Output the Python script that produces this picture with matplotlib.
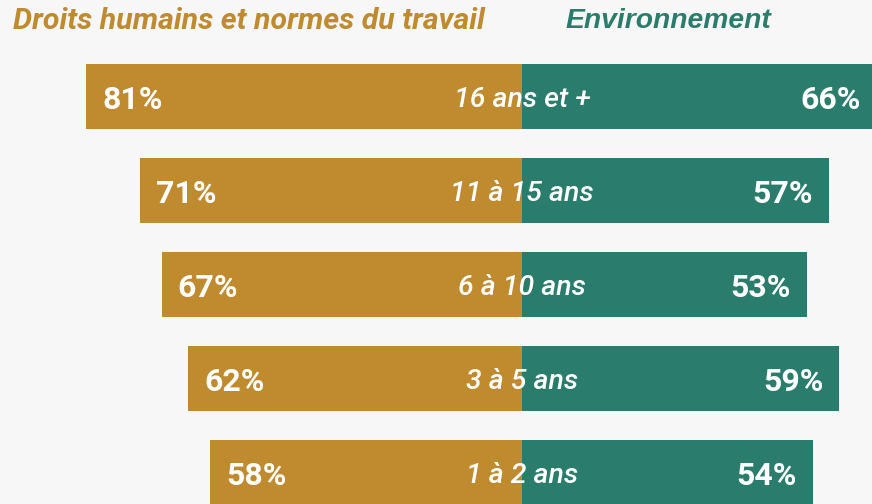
import matplotlib.pyplot as plt

# Data
groups = ["16 ans et +", "11 à 15 ans", "6 à 10 ans", "3 à 5 ans", "1 à 2 ans"]
droits = [81, 71, 67, 62, 58]
environnement = [66, 57, 53, 59, 54]

gold = "#C08A2E"
teal = "#2A7D6D"
bg = "#F7F7F7"

fig = plt.figure(figsize=(8.72, 5.04), dpi=100, facecolor=bg)
ax = fig.add_axes([0, 0, 1, 1])
ax.set_facecolor(bg)

ypos = list(range(len(groups)))
ax.barh(ypos, [-v for v in droits], height=0.69, color=gold, linewidth=0)
ax.barh(ypos, environnement, height=0.69, color=teal, linewidth=0)

for y, g, l, r in zip(ypos, groups, droits, environnement):
    ax.text(-l + 3.0, y + 0.04, f"{l}%", color="white", fontsize=23,
            fontweight="bold", family="Roboto", ha="left", va="center")
    ax.text(r - 3.0, y + 0.04, f"{r}%", color="white", fontsize=23,
            fontweight="bold", family="Roboto", ha="right", va="center")
    ax.text(0, y + 0.03, g, color="white", fontsize=20.5, style="italic",
            fontweight="medium", family="Roboto", ha="center", va="center")

ax.set_xlim(-522 / 5.38, 350 / 5.38)
ax.set_ylim((504 - 96.5) / 94, -96.5 / 94)
ax.axis("off")

fig.text(13 / 872, 1 - 21 / 504, "Droits humains et normes du travail",
         color=gold, fontsize=21.8, fontweight="bold", style="italic",
         family="Roboto", ha="left", va="center")
fig.text(565 / 872, 1 - 21 / 504, "Environnement", color=teal, fontsize=20.3,
         fontweight="bold", style="italic", family="Liberation Sans",
         ha="left", va="center")

fig.savefig("out.png", dpi=100, facecolor=bg)
